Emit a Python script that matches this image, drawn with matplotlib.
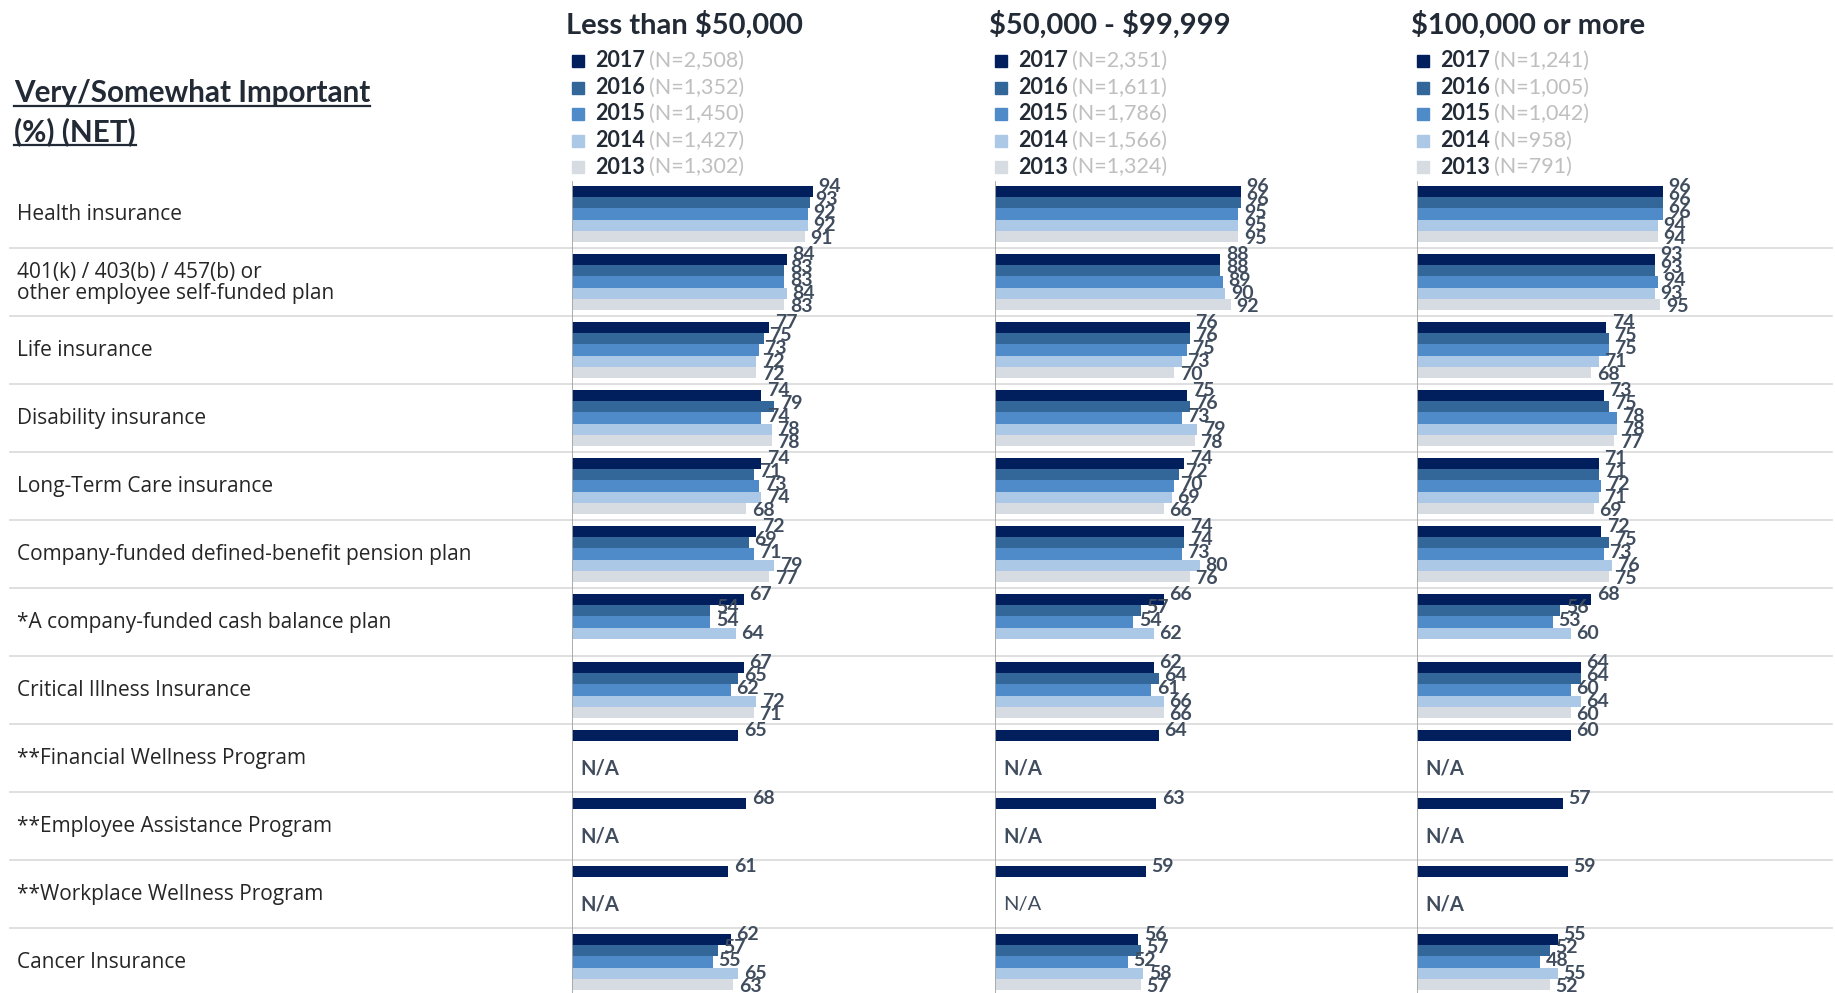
import numpy as np
import matplotlib.pyplot as plt
from matplotlib.lines import Line2D

plt.rcParams['font.family'] = ['Lato', 'DejaVu Sans']

categories = [
    "Health insurance",
    "401(k) / 403(b) / 457(b) or\nother employee self-funded plan",
    "Life insurance",
    "Disability insurance",
    "Long-Term Care insurance",
    "Company-funded defined-benefit pension plan",
    "*A company-funded cash balance plan",
    "Critical Illness Insurance",
    "**Financial Wellness Program",
    "**Employee Assistance Program",
    "**Workplace Wellness Program",
    "Cancer Insurance",
]
years = ["2017", "2016", "2015", "2014", "2013"]
groups = ["Less than $50,000", "$50,000 - $99,999", "$100,000 or more"]
sample_sizes = [
    ["(N=2,508)", "(N=1,352)", "(N=1,450)", "(N=1,427)", "(N=1,302)"],
    ["(N=2,351)", "(N=1,611)", "(N=1,786)", "(N=1,566)", "(N=1,324)"],
    ["(N=1,241)", "(N=1,005)", "(N=1,042)", "(N=958)", "(N=791)"],
]

na = np.nan
# rows = categories, columns = 2017, 2016, 2015, 2014, 2013
under_50k = [
    [94, 93, 92, 92, 91],
    [84, 83, 83, 84, 83],
    [77, 75, 73, 72, 72],
    [74, 79, 74, 78, 78],
    [74, 71, 73, 74, 68],
    [72, 69, 71, 79, 77],
    [67, 54, 54, 64, na],
    [67, 65, 62, 72, 71],
    [65, na, na, na, na],
    [68, na, na, na, na],
    [61, na, na, na, na],
    [62, 57, 55, 65, 63],
]
from_50k_to_100k = [
    [96, 96, 95, 95, 95],
    [88, 88, 89, 90, 92],
    [76, 76, 75, 73, 70],
    [75, 76, 73, 79, 78],
    [74, 72, 70, 69, 66],
    [74, 74, 73, 80, 76],
    [66, 57, 54, 62, na],
    [62, 64, 61, 66, 66],
    [64, na, na, na, na],
    [63, na, na, na, na],
    [59, na, na, na, na],
    [56, 57, 52, 58, 57],
]
over_100k = [
    [96, 96, 96, 94, 94],
    [93, 93, 94, 93, 95],
    [74, 75, 75, 71, 68],
    [73, 75, 78, 78, 77],
    [71, 71, 72, 71, 69],
    [72, 75, 73, 76, 75],
    [68, 56, 53, 60, na],
    [64, 64, 60, 64, 60],
    [60, na, na, na, na],
    [57, na, na, na, na],
    [59, na, na, na, na],
    [55, 52, 48, 55, 52],
]
panel_data = [under_50k, from_50k_to_100k, over_100k]
na_rows = [8, 9, 10]
na_regular = [(1, 10)]  # (panel, row) where N/A is not bold

colors = ['#001f5c', '#336699', '#4f8bc9', '#abc9e6', '#d7dce3']
value_color = '#404d5e'
dark = '#222a35'

W, H = 1835, 993
fig = plt.figure(figsize=(W / 100, H / 100), dpi=100)
top_px = 180
slot_px = 68 / 6
ymax = (H - top_px) / slot_px
ax_h = 1 - top_px / H

# background: row separators and category labels
bg = fig.add_axes([0, 0, 1, ax_h])
bg.set_xlim(0, W)
bg.set_ylim(ymax, 0)
bg.axis('off')
for i in range(1, len(categories)):
    bg.plot([10, W - 3], [6 * i, 6 * i], color='#d9d9d9', lw=1.2)
for i, cat in enumerate(categories):
    bg.text(17, 6 * i + 3.05, cat, va='center', ha='left', family=['Open Sans', 'DejaVu Sans'],
            size=15, color='#262626', linespacing=1.0)

panel_x = [572, 995, 1417]
ppu = 2.56
panel_w = 400

for g, data in enumerate(panel_data):
    ax = fig.add_axes([panel_x[g] / W, 0, panel_w / W, ax_h])
    ax.set_xlim(0, panel_w / ppu)
    ax.set_ylim(ymax, 0)
    ax.axis('off')
    ax.axvline(0, color='#a6a6a6', lw=1.3, ymax=1 - 2 / (H - top_px), zorder=3)
    arr = np.array(data, dtype=float)
    for j in range(len(years)):
        vals = arr[:, j]
        ys = 6 * np.arange(len(categories)) + 1 + j
        ok = ~np.isnan(vals)
        ax.barh(ys[ok], vals[ok], height=1.0, color=colors[j], zorder=2)
        for i, v in enumerate(vals):
            if np.isnan(v):
                continue
            ly = 6 * i + 3 + (j - 2) * 1.15 - 0.1
            ax.annotate(f"{int(v)}", (v, ly), xytext=(4, 0), textcoords='offset points',
                        va='center', ha='left', fontweight='bold', size=14, color=value_color)
    for r in na_rows:
        bold = (g, r) not in na_regular
        ax.annotate("N/A", (0, 6 * r + 3.9), xytext=(6, 0), textcoords='offset points',
                    va='center', ha='left', size=14.5, color=value_color,
                    fontweight='bold' if bold else 'normal')

    # header and legend
    fig.text((panel_x[g] - 6) / W, 1 - 24.5 / H, groups[g].replace('$', r'\$'), size=21,
             weight='bold', va='center', ha='left', color=dark)
    leg_y = [60.5, 87.5, 113.5, 140.5, 167]
    for j, yr in enumerate(years):
        fy = 1 - leg_y[j] / H
        fig.add_artist(Line2D([(panel_x[g] + 6) / W], [fy], marker='s', markersize=9,
                              color=colors[j], linestyle='none'))
        t = fig.text((panel_x[g] + 23) / W, fy, yr, size=15.5, weight='bold',
                     va='center', ha='left', color=dark)
        ax.annotate(sample_sizes[g][j], xy=(1, 0.5), xycoords=t, xytext=(3, 0),
                    textcoords='offset points', va='center', ha='left',
                    size=15.5, color='#bfbfbf', annotation_clip=False)

# left heading with underline
h1 = fig.text(14 / W, 1 - 93 / H, "Very/Somewhat Important", size=21.3, weight='bold',
              va='center', ha='left', color=dark)
h2 = fig.text(14 / W, 1 - 132 / H, "(%) (NET)", size=21.3, weight='bold',
              va='center', ha='left', color=dark)
fig.canvas.draw()
renderer = fig.canvas.get_renderer()
for t in (h1, h2):
    bb = t.get_window_extent(renderer)
    y = (bb.y0 + 1) / H
    fig.add_artist(Line2D([bb.x0 / W, bb.x1 / W], [y, y], color=dark, lw=1.6))

fig.savefig('out.png', dpi=100, facecolor='white')
